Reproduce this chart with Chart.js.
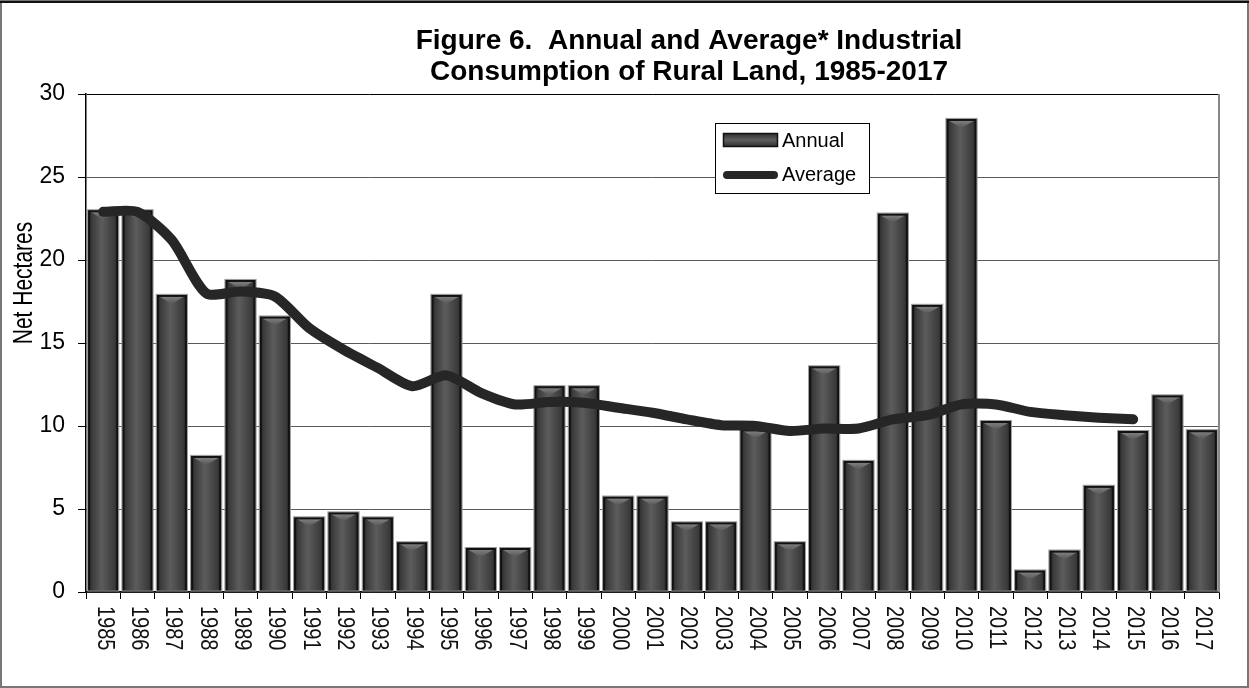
<!DOCTYPE html>
<html>
<head>
<meta charset="utf-8">
<title>Industrial Consumption of Rural Land</title>
<script src="https://cdn.jsdelivr.net/npm/chart.js@4.4.1/dist/chart.umd.min.js"></script>
<style>
  html, body { margin: 0; padding: 0; background: #fff; }
  #wrap { width: 1249px; height: 688px; }
</style>
</head>
<body>
<div id="wrap"><canvas id="landChart" width="1249" height="688"></canvas></div>
<script>
// Data
const years = ["1985", "1986", "1987", "1988", "1989", "1990", "1991", "1992", "1993", "1994",
  "1995", "1996", "1997", "1998", "1999", "2000", "2001", "2002", "2003", "2004",
  "2005", "2006", "2007", "2008", "2009", "2010", "2011", "2012", "2013", "2014",
  "2015", "2016", "2017"];

const annual = [23.0, 23.0, 17.9, 8.2, 18.8, 16.6, 4.5, 4.8, 4.5, 3.0,
  17.9, 2.65, 2.65, 12.4, 12.4, 5.75, 5.75, 4.2, 4.2, 9.8,
  3.0, 13.6, 7.9, 22.8, 17.3, 28.5, 10.3, 1.3, 2.5, 6.4,
  9.7, 11.85, 9.75];

// running average, last two years not yet computed
const average = [22.9, 22.9, 21.2, 18.0, 18.1, 17.8, 15.9, 14.6, 13.5, 12.4,
  13.05, 12.0, 11.3, 11.45, 11.4, 11.1, 10.8, 10.4, 10.05, 10.0,
  9.7, 9.85, 9.85, 10.4, 10.65, 11.3, 11.3, 10.85, 10.65, 10.5,
  10.4, null, null];

const yTicks = [0, 5, 10, 15, 20, 25, 30];

const FONT = "Arial, 'Liberation Sans', sans-serif";

// bars with a shaded face and bevel on top
const barShading = {
  id: "barShading",
  afterDatasetDraw(chart, args) {
    if (args.index !== 0) return;
    const ctx = chart.ctx;
    chart.getDatasetMeta(0).data.forEach(bar => {
      const { x, y, base, width } = bar.getProps(["x", "y", "base", "width"], true);
      const l = x - width / 2, r = x + width / 2;
      const g = ctx.createLinearGradient(l, 0, r, 0);
      g.addColorStop(0, "#1a1a1a");
      g.addColorStop(0.12, "#3a3a3a");
      g.addColorStop(0.45, "#5c5c5c");
      g.addColorStop(0.88, "#3a3a3a");
      g.addColorStop(1, "#1a1a1a");
      ctx.save();
      ctx.fillStyle = g;
      ctx.fillRect(l, y, width, base - y);
      // top bevel
      const tg = ctx.createLinearGradient(0, y, 0, y + 9);
      tg.addColorStop(0, "#8a8a8a");
      tg.addColorStop(1, "#555");
      ctx.fillStyle = tg;
      ctx.beginPath();
      ctx.moveTo(l + 3, y + 2);
      ctx.lineTo(r - 3, y + 2);
      ctx.lineTo(x, y + 9);
      ctx.closePath();
      ctx.fill();
      ctx.strokeStyle = "#111";
      ctx.lineWidth = 2;
      ctx.strokeRect(l + 1, y + 1, width - 2, base - y - 1);
      ctx.strokeStyle = "#999";
      ctx.lineWidth = 1;
      ctx.strokeRect(l - 0.5, y - 0.5, width + 1, base - y);
      ctx.restore();
    });
  }
};

// frame, titles, rotated year labels and legend
const decorations = {
  id: "decorations",
  beforeDraw(chart) {
    const ctx = chart.ctx;
    ctx.save();
    ctx.fillStyle = "#fff";
    ctx.fillRect(0, 0, chart.width, chart.height);
    ctx.restore();
  },
  afterDraw(chart) {
    const ctx = chart.ctx;
    const area = chart.chartArea;
    const xs = chart.scales.x;
    ctx.save();

    // outer frame
    ctx.strokeStyle = "#777";
    ctx.lineWidth = 2;
    ctx.strokeRect(1, 1, chart.width - 2, chart.height - 2);
    ctx.strokeStyle = "#111";
    ctx.beginPath();
    ctx.moveTo(0, 2); ctx.lineTo(chart.width, 2);
    ctx.stroke();

    // right edge of plot
    ctx.strokeStyle = "#888";
    ctx.lineWidth = 2;
    ctx.beginPath();
    ctx.moveTo(area.right, area.top);
    ctx.lineTo(area.right, area.bottom);
    ctx.stroke();

    // title
    ctx.fillStyle = "#000";
    ctx.font = "bold 28px " + FONT;
    ctx.textAlign = "center";
    ctx.textBaseline = "alphabetic";
    ctx.fillText("Figure 6.  Annual and Average* Industrial", 689, 49);
    ctx.fillText("Consumption of Rural Land, 1985-2017", 689, 80);

    // y axis title
    ctx.font = "21px " + FONT;
    ctx.translate(24, 283);
    ctx.rotate(-Math.PI / 2);
    ctx.scale(1, 1.3);
    ctx.textBaseline = "middle";
    ctx.fillText("Net Hectares", 0, 0);
    ctx.setTransform(1, 0, 0, 1, 0, 0);

    // year labels, reading downward
    ctx.font = "20px " + FONT;
    ctx.fillStyle = "#111";
    ctx.textAlign = "left";
    ctx.textBaseline = "middle";
    years.forEach((yr, i) => {
      const px = xs.getPixelForValue(i);
      ctx.save();
      ctx.translate(px + 1, area.bottom + 14);
      ctx.rotate(Math.PI / 2);
      ctx.scale(1, 1.2);
      ctx.fillText(yr, 0, 0);
      ctx.restore();
    });

    // legend
    const lx = 715, ly = 123, lw = 154, lh = 70;
    ctx.fillStyle = "#fff";
    ctx.fillRect(lx, ly, lw, lh);
    ctx.strokeStyle = "#000";
    ctx.lineWidth = 1;
    ctx.strokeRect(lx + 0.5, ly + 0.5, lw, lh);

    const sg = ctx.createLinearGradient(0, 133, 0, 147);
    sg.addColorStop(0, "#2a2a2a");
    sg.addColorStop(0.5, "#5e5e5e");
    sg.addColorStop(1, "#2a2a2a");
    ctx.fillStyle = sg;
    ctx.fillRect(723, 133, 55, 14);
    ctx.strokeStyle = "#111";
    ctx.lineWidth = 1.5;
    ctx.strokeRect(723.5, 133.5, 54, 13);

    ctx.strokeStyle = "#262626";
    ctx.lineWidth = 8;
    ctx.lineCap = "round";
    ctx.beginPath();
    ctx.moveTo(727, 175);
    ctx.lineTo(774, 175);
    ctx.stroke();

    ctx.fillStyle = "#000";
    ctx.font = "20px " + FONT;
    ctx.textBaseline = "middle";
    ctx.fillText("Annual", 782, 141);
    ctx.fillText("Average", 782, 175);

    ctx.restore();
  }
};

const ctx = document.getElementById("landChart").getContext("2d");

new Chart(ctx, {
  type: "bar",
  data: {
    labels: years,
    datasets: [
      {
        type: "bar",
        label: "Annual",
        data: annual,
        backgroundColor: "#444",
        borderWidth: 0,
        barPercentage: 0.88,
        categoryPercentage: 1.0,
        order: 2
      },
      {
        type: "line",
        label: "Average",
        data: average,
        borderColor: "#262626",
        borderWidth: 10,
        borderCapStyle: "round",
        borderJoinStyle: "round",
        tension: 0.25,
        pointRadius: 0,
        fill: false,
        spanGaps: false,
        order: 1
      }
    ]
  },
  options: {
    responsive: false,
    animation: false,
    devicePixelRatio: 1,
    layout: { padding: { top: 94, right: 30, bottom: 2, left: 2 } },
    plugins: {
      legend: { display: false },
      title: { display: false },
      tooltip: { enabled: false }
    },
    scales: {
      x: {
        offset: true,
        afterFit(scale) { scale.height = 94; },
        grid: {
          offset: true,
          drawOnChartArea: false,
          drawTicks: true,
          tickLength: 7,
          color: "#000",
          lineWidth: 1
        },
        border: { display: true, color: "#000", width: 1.5 },
        ticks: { display: false }
      },
      y: {
        min: 0,
        max: 30,
        afterFit(scale) { scale.width = 84; },
        afterBuildTicks(scale) { scale.ticks = yTicks.map(v => ({ value: v })); },
        grid: {
          color: ctx => (ctx.tick && ctx.tick.value === 30 ? "#000" : "#5a5a5a"),
          lineWidth: 1,
          tickLength: 8,
          tickColor: "#000"
        },
        border: { display: true, color: "#000", width: 1.5 },
        ticks: {
          color: "#000",
          padding: 13,
          font: { family: FONT, size: 23 }
        }
      }
    }
  },
  plugins: [barShading, decorations]
});
</script>
</body>
</html>
